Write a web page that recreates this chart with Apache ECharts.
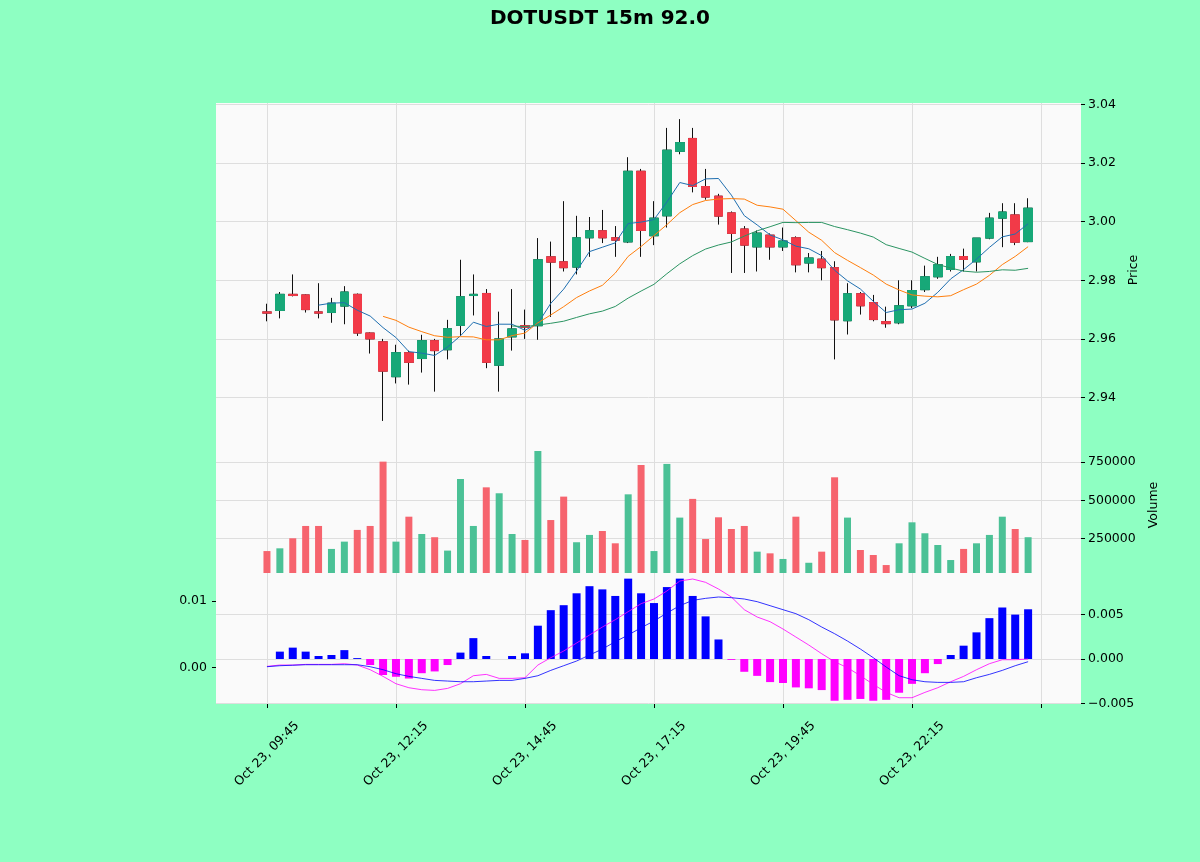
<!DOCTYPE html>
<html>
<head>
    <meta charset="UTF-8">
    <title>DOTUSDT 15m</title>
    <script src="https://cdn.jsdelivr.net/npm/echarts@6.0.0/dist/echarts.min.js"></script>
    <style>
        html, body { margin: 0; padding: 0; background: #8effc2; }
        #container { width: 1200px; height: 862px; }
    </style>
</head>
<body>
<div id="container"></div>
<script>
    // 15m candles from Oct 23, 09:45 (60 bars)
    var opens  = [2.9692, 2.9697, 2.9752, 2.9750, 2.9692, 2.9690, 2.9712, 2.9752, 2.9620, 2.9590,
                  2.9471, 2.9553, 2.9533, 2.9594, 2.9563, 2.9646, 2.9748, 2.9755, 2.9510, 2.9607,
                  2.9645, 2.9645, 2.9880, 2.9863, 2.9845, 2.9945, 2.9969, 2.9945, 2.9931, 3.0172,
                  2.9952, 3.0020, 3.0240, 3.0284, 3.0120, 3.0087, 3.0030, 2.9975, 2.9914, 2.9954,
                  2.9914, 2.9945, 2.9859, 2.9872, 2.9843, 2.9662, 2.9754, 2.9724, 2.9659, 2.9655,
                  2.9713, 2.9768, 2.9812, 2.9837, 2.9881, 2.9863, 2.9944, 3.0012, 3.0023, 2.9932];
    var highs  = [2.9720, 2.9760, 2.9820, 2.9752, 2.9790, 2.9740, 2.9780, 2.9755, 2.9622, 2.9600,
                  2.9580, 2.9560, 2.9614, 2.9600, 2.9665, 2.9870, 2.9820, 2.9770, 2.9693, 2.9770,
                  2.9700, 2.9944, 2.9932, 3.0070, 3.0020, 3.0016, 3.0040, 2.9985, 3.0220, 3.0180,
                  3.0070, 3.0320, 3.0350, 3.0320, 3.0180, 3.0095, 3.0035, 2.9985, 2.9970, 2.9960,
                  2.9980, 2.9950, 2.9893, 2.9900, 2.9865, 2.9790, 2.9760, 2.9750, 2.9710, 2.9800,
                  2.9800, 2.9850, 2.9880, 2.9890, 2.9908, 2.9944, 3.0030, 3.0063, 3.0063, 3.0080];
    var lows   = [2.9660, 2.9670, 2.9745, 2.9690, 2.9670, 2.9655, 2.9650, 2.9610, 2.9550, 2.9320,
                  2.9448, 2.9444, 2.9485, 2.9420, 2.9530, 2.9610, 2.9680, 2.9500, 2.9420, 2.9560,
                  2.9600, 2.9597, 2.9675, 2.9830, 2.9820, 2.9880, 2.9927, 2.9880, 2.9927, 2.9880,
                  2.9920, 2.9980, 3.0230, 3.0100, 3.0075, 2.9990, 2.9825, 2.9825, 2.9830, 2.9870,
                  2.9900, 2.9827, 2.9827, 2.9800, 2.9530, 2.9615, 2.9683, 2.9660, 2.9638, 2.9650,
                  2.9705, 2.9760, 2.9805, 2.9830, 2.9830, 2.9830, 2.9940, 2.9913, 2.9920, 2.9930];
    var closes = [2.9688, 2.9752, 2.9748, 2.9700, 2.9688, 2.9722, 2.9760, 2.9620, 2.9600, 2.9490,
                  2.9553, 2.9520, 2.9594, 2.9560, 2.9635, 2.9744, 2.9752, 2.9520, 2.9600, 2.9634,
                  2.9640, 2.9870, 2.9862, 2.9843, 2.9945, 2.9969, 2.9945, 2.9937, 3.0172, 2.9970,
                  3.0012, 3.0244, 3.0270, 3.0120, 3.0084, 3.0019, 2.9960, 2.9920, 2.9961, 2.9914,
                  2.9934, 2.9853, 2.9876, 2.9843, 2.9665, 2.9754, 2.9713, 2.9666, 2.9652, 2.9713,
                  2.9765, 2.9812, 2.9853, 2.9881, 2.9871, 2.9944, 3.0012, 3.0033, 2.9930, 3.0046];
    var volumes = [166000, 184000, 250000, 331000, 331000, 180000, 228000, 305000, 331000, 754000,
                   228000, 392000, 278000, 257000, 169000, 640000, 331000, 585000, 546000, 278000,
                   239000, 824000, 370000, 524000, 224000, 272000, 298000, 217000, 539000, 732000,
                   166000, 739000, 386000, 509000, 245000, 388000, 311000, 331000, 162000, 151000,
                   114000, 392000, 89000, 162000, 651000, 386000, 173000, 140000, 74000, 217000,
                   355000, 283000, 206000, 107000, 180000, 217000, 272000, 392000, 311000, 257000];
    var macdLine = [0.0002, 0.0004, 0.0004, 0.0005, 0.0005, 0.0005, 0.0006, 0.0004, -0.0003, -0.0013,
                    -0.0024, -0.0030, -0.0033, -0.0034, -0.0031, -0.0024, -0.0012, -0.0010, -0.0016, -0.0016,
                    -0.0015, 0.0004, 0.0015, 0.0025, 0.0037, 0.0049, 0.0061, 0.0072, 0.0084, 0.0096,
                    0.0103, 0.0115, 0.0130, 0.0133, 0.0128, 0.0118, 0.0106, 0.0087, 0.0076, 0.0069,
                    0.0058, 0.0046, 0.0034, 0.0021, 0.0009, 0.0000, -0.0012, -0.0025, -0.0037, -0.0045,
                    -0.0045, -0.0037, -0.0030, -0.0021, -0.0013, -0.0003, 0.0006, 0.0012, 0.0012, 0.0013];
    var signalLine = [0.00015, 0.0003, 0.00037, 0.00045, 0.00045, 0.00045, 0.00045, 0.00045, 0.00015, -0.0003,
                      -0.0009, -0.0013, -0.0016, -0.0019, -0.0020, -0.0021, -0.0021, -0.0020, -0.0019, -0.0019,
                      -0.0016, -0.0012, -0.0004, 0.0003, 0.0010, 0.0019, 0.0028, 0.0039, 0.0049, 0.0060,
                      0.0070, 0.0082, 0.0093, 0.0101, 0.0104, 0.0106, 0.0105, 0.0103, 0.0099, 0.0093,
                      0.0087, 0.0081, 0.0072, 0.0061, 0.0051, 0.0040, 0.0028, 0.0015, 0.0001, -0.0012,
                      -0.0018, -0.0021, -0.0022, -0.0022, -0.0021, -0.0015, -0.0010, -0.0004, 0.0003, 0.0009];
    var macdHist = [0, 0.00083, 0.00128, 0.00083, 0.00034, 0.00045, 0.0010, 0.0001, -0.00068, -0.0018,
                    -0.0020, -0.0022, -0.0016, -0.0014, -0.00068, 0.00072, 0.00235, 0.00034, 0, 0.00034,
                    0.00064, 0.00375, 0.0055, 0.00606, 0.0074, 0.0082, 0.00784, 0.0071, 0.00905, 0.0074,
                    0.0063, 0.0081, 0.00905, 0.0071, 0.0048, 0.0022, -0.0001, -0.00144, -0.0019, -0.0026,
                    -0.0027, -0.0032, -0.0033, -0.0035, -0.0047, -0.0046, -0.0045, -0.0047, -0.0046, -0.0038,
                    -0.0028, -0.0016, -0.00057, 0.00045, 0.0015, 0.0030, 0.0046, 0.0058, 0.0050, 0.0056];
    var tickLabels = ['Oct 23, 09:45', 'Oct 23, 12:15', 'Oct 23, 14:45',
                      'Oct 23, 17:15', 'Oct 23, 19:45', 'Oct 23, 22:15'];
    var xTicks = [0, 10, 20, 30, 40, 50, 60];
    var priceTicks = [2.94, 2.96, 2.98, 3.00, 3.02, 3.04];
    var volTicks = [250000, 500000, 750000];
    var macdTicks = [0, 0.01];
    var histTicks = [-0.005, 0, 0.005];
    var mavPeriods = [5, 10, 20];

    var upColor = '#17a878', downColor = '#f23a48';
    var upVol = '#4bc196', downVol = '#f6646e';
    var font = 'DejaVu Sans';

    function sma(n) {
        var out = [];
        for (var i = 0; i < closes.length; i++) {
            if (i < n - 1) { out.push([i, null]); continue; }
            var s = 0;
            for (var j = i - n + 1; j <= i; j++) s += closes[j];
            out.push([i, s / n]);
        }
        return out;
    }

    var wickData = [], bodyData = [], volData = [], histData = [], macdData = [], sigData = [];
    for (var i = 0; i < closes.length; i++) {
        wickData.push([i, opens[i], closes[i], lows[i], highs[i]]);
        bodyData.push([i, opens[i], closes[i], Math.min(opens[i], closes[i]), Math.max(opens[i], closes[i])]);
        var up = closes[i] >= opens[i];
        volData.push({value: [i, volumes[i]], itemStyle: {color: up ? upVol : downVol}});
        histData.push({value: [i, macdHist[i]], itemStyle: {color: macdHist[i] >= 0 ? '#0000ff' : '#ff00ff'}});
        macdData.push([i, macdLine[i]]);
        sigData.push([i, signalLine[i]]);
    }

    function onStep(v, step) {
        var r = v / step;
        return Math.abs(r - Math.round(r)) < 1e-6;
    }

    var labelStyle = {color: '#000', fontSize: 12.5, fontFamily: font};
    var gridLine = {show: true, lineStyle: {color: '#dedede', width: 1}};
    function tick(vals) {
        return {show: true, length: 4, customValues: vals, lineStyle: {color: '#000'}};
    }

    function xAx(idx, showLabels) {
        return {
            type: 'value', gridIndex: idx, min: -3.95, max: 63.1,
            minInterval: 10, maxInterval: 10,
            axisLine: {show: false, onZero: false},
            axisTick: showLabels ? tick(xTicks) : {show: false, customValues: xTicks},
            splitLine: gridLine,
            axisLabel: showLabels ? {
                show: true, rotate: 45, align: 'center', verticalAlign: 'middle', margin: 50,
                color: '#000', fontSize: 12.5, fontFamily: font,
                customValues: xTicks.slice(0, tickLabels.length),
                formatter: function (v) {
                    if (!onStep(v, 10)) return '';
                    var k = Math.round(v / 10);
                    return tickLabels[k] || '';
                }
            } : {show: false}
        };
    }

    var dom = document.getElementById('container');
    var myChart = echarts.init(dom);

    var option = {
        backgroundColor: '#8effc2',
        animation: false,
        title: {
            text: 'DOTUSDT 15m 92.0',
            left: 'center', top: 4,
            textStyle: {fontFamily: font, fontWeight: 'bold', fontSize: 20, color: '#000'}
        },
        grid: [
            {left: 216, right: 119, top: 103, height: 334, show: true, backgroundColor: '#fafafa', borderWidth: 0, outerBoundsMode: 'none'},
            {left: 216, right: 119, top: 437, height: 136, show: true, backgroundColor: '#fafafa', borderWidth: 0, outerBoundsMode: 'none'},
            {left: 216, right: 119, top: 573, height: 131, show: true, backgroundColor: '#fafafa', borderWidth: 0, outerBoundsMode: 'none'}
        ],
        xAxis: [xAx(0, false), xAx(1, false), xAx(2, true)],
        yAxis: [
            {
                type: 'value', gridIndex: 0, position: 'right',
                min: 2.92652, max: 3.0405, minInterval: 0.02, maxInterval: 0.02,
                name: 'Price', nameLocation: 'middle', nameRotate: 90, nameGap: 46,
                nameTextStyle: labelStyle,
                axisLine: {show: false, onZero: false}, axisTick: tick(priceTicks), splitLine: gridLine,
                axisLabel: {
                    color: '#000', fontSize: 12.5, fontFamily: font, margin: 7,
                    customValues: priceTicks,
                    formatter: function (v) { return onStep(v, 0.02) ? v.toFixed(2) : ''; }
                }
            },
            {
                type: 'value', gridIndex: 1, position: 'right',
                min: 21700, max: 916000, minInterval: 250000, maxInterval: 250000,
                name: 'Volume', nameLocation: 'middle', nameRotate: 90, nameGap: 66,
                nameTextStyle: labelStyle,
                axisLine: {show: false, onZero: false}, axisTick: tick(volTicks), splitLine: gridLine,
                axisLabel: {
                    color: '#000', fontSize: 12.5, fontFamily: font, margin: 7,
                    customValues: volTicks,
                    formatter: function (v) { return onStep(v, 250000) ? String(Math.round(v)) : ''; }
                }
            },
            {
                type: 'value', gridIndex: 2, position: 'left',
                min: -0.00544, max: 0.0142, minInterval: 0.01, maxInterval: 0.01,
                axisLine: {show: false, onZero: false}, axisTick: tick(macdTicks), splitLine: {show: false},
                axisLabel: {
                    color: '#000', fontSize: 12.5, fontFamily: font, margin: 9,
                    customValues: macdTicks,
                    formatter: function (v) { return onStep(v, 0.01) ? v.toFixed(2) : ''; }
                }
            },
            {
                type: 'value', gridIndex: 2, position: 'right',
                min: -0.005068, max: 0.009685, minInterval: 0.005, maxInterval: 0.005,
                axisLine: {show: false, onZero: false}, axisTick: tick(histTicks), splitLine: gridLine,
                axisLabel: {
                    color: '#000', fontSize: 12.5, fontFamily: font, margin: 7,
                    customValues: histTicks,
                    formatter: function (v) {
                        if (!onStep(v, 0.005)) return '';
                        if (Math.abs(v) < 1e-9) return '0.000';
                        return v.toFixed(3).replace('-', '\u2212');
                    }
                }
            }
        ],
        series: [
            {
                name: 'wick', type: 'candlestick', xAxisIndex: 0, yAxisIndex: 0,
                data: wickData, encode: {x: 0, y: [1, 2, 3, 4]}, barWidth: 9,
                itemStyle: {color: 'transparent', color0: 'transparent', borderColor: '#111', borderColor0: '#111', borderWidth: 1},
                z: 2
            },
            {
                name: 'body', type: 'candlestick', xAxisIndex: 0, yAxisIndex: 0,
                data: bodyData, encode: {x: 0, y: [1, 2, 3, 4]}, barWidth: 9,
                itemStyle: {color: upColor, color0: downColor, borderColor: upColor, borderColor0: downColor, borderWidth: 1},
                z: 3
            },
            {
                name: 'MA5', type: 'line', xAxisIndex: 0, yAxisIndex: 0, data: sma(mavPeriods[0]),
                showSymbol: false, lineStyle: {color: '#1f6fb0', width: 1}, z: 4
            },
            {
                name: 'MA10', type: 'line', xAxisIndex: 0, yAxisIndex: 0, data: sma(mavPeriods[1]),
                showSymbol: false, lineStyle: {color: '#ff7f0e', width: 1}, z: 4
            },
            {
                name: 'MA20', type: 'line', xAxisIndex: 0, yAxisIndex: 0, data: sma(mavPeriods[2]),
                showSymbol: false, lineStyle: {color: '#2b9462', width: 1}, z: 4
            },
            {
                name: 'Volume', type: 'bar', xAxisIndex: 1, yAxisIndex: 1,
                data: volData, barWidth: 7
            },
            {
                name: 'Histogram', type: 'bar', xAxisIndex: 2, yAxisIndex: 3,
                data: histData, barWidth: 8
            },
            {
                name: 'MACD', type: 'line', xAxisIndex: 2, yAxisIndex: 2, data: macdData,
                showSymbol: false, lineStyle: {color: '#ff00ff', width: 0.8}, z: 4
            },
            {
                name: 'Signal', type: 'line', xAxisIndex: 2, yAxisIndex: 2, data: sigData,
                showSymbol: false, lineStyle: {color: '#0000ff', width: 0.8}, z: 4
            }
        ]
    };

    myChart.setOption(option);
</script>
</body>
</html>
